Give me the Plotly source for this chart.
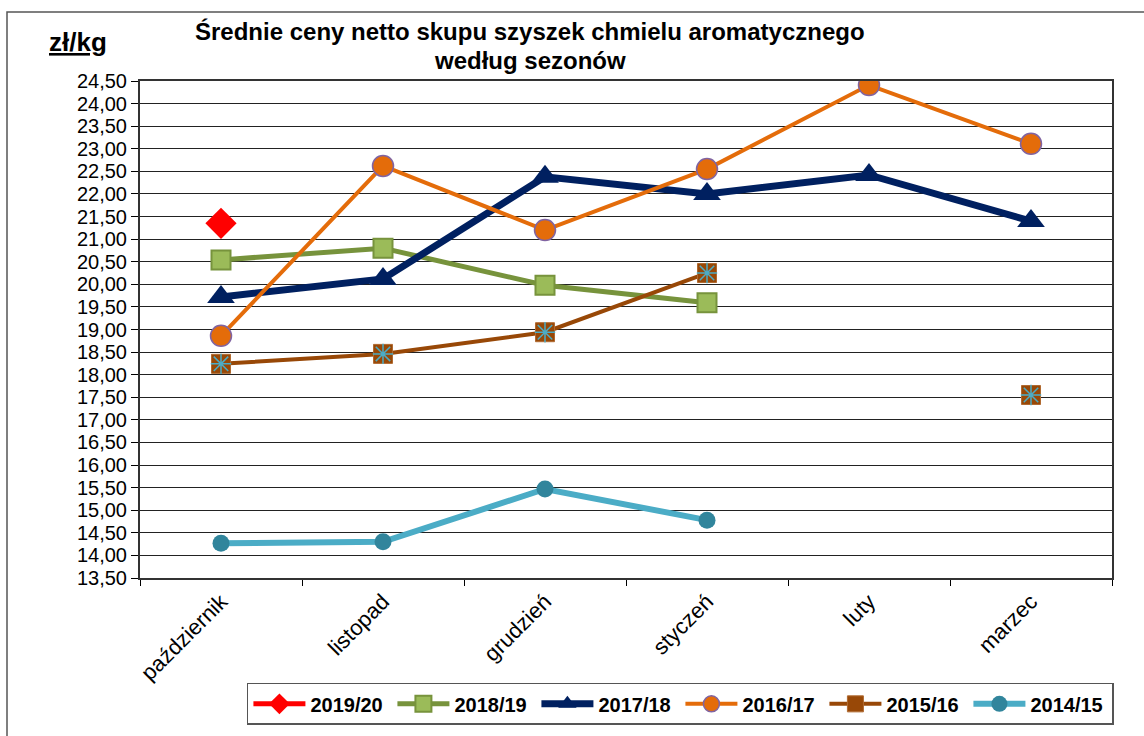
import plotly.graph_objects as go

months = ["październik", "listopad", "grudzień", "styczeń", "luty", "marzec"]
s2019_20 = [21.35, None, None, None, None, None]
s2018_19 = [20.54, 20.80, 19.98, 19.59, None, None]
s2017_18 = [19.72, 20.12, 22.38, 22.00, 22.42, 21.40]
s2016_17 = [18.86, 22.62, 21.20, 22.55, 24.41, 23.11]
s2015_16 = [18.24, 18.46, 18.94, 20.25, None, 17.55]
s2014_15 = [14.27, 14.30, 15.47, 14.78, None, None]

y_ticks = [13.5 + 0.5 * i for i in range(23)]
y_tick_text = [f"{v:.2f}".replace(".", ",") for v in y_ticks]

FONT = "Arial, Liberation Sans, sans-serif"

fig = go.Figure()

fig.add_trace(go.Scatter(x=months, y=s2019_20, name="2019/20", mode="lines+markers",
                         line=dict(color="#FF0000", width=5),
                         marker=dict(symbol="diamond", size=24, color="#FF0000")))
fig.add_trace(go.Scatter(x=months, y=s2018_19, name="2018/19", mode="lines+markers",
                         line=dict(color="#77933C", width=5),
                         marker=dict(symbol="square", size=19, color="#9BBB59",
                                     line=dict(color="#77933C", width=2))))
fig.add_trace(go.Scatter(x=months, y=s2017_18, name="2017/18", mode="lines+markers",
                         line=dict(color="#002060", width=7),
                         marker=dict(symbol="triangle-up", size=24, color="#002060")))
fig.add_trace(go.Scatter(x=months, y=s2016_17, name="2016/17", mode="lines+markers",
                         line=dict(color="#E46C0A", width=4),
                         marker=dict(symbol="circle", size=21, color="#E46C0A",
                                     line=dict(color="#8064A2", width=1.5))))
fig.add_trace(go.Scatter(x=months, y=s2015_16, name="2015/16", mode="lines+markers",
                         line=dict(color="#984807", width=4),
                         marker=dict(symbol="square", size=19, color="#984807",
                                     line=dict(color="#B06A30", width=1))))
fig.add_trace(go.Scatter(x=months, y=s2015_16, name="2015/16 *", mode="markers",
                         showlegend=False, hoverinfo="skip",
                         marker=dict(symbol="asterisk-open", size=17, color="#4BACC6",
                                     line=dict(color="#4BACC6", width=1.5))))
fig.add_trace(go.Scatter(x=months, y=s2014_15, name="2014/15", mode="lines+markers",
                         line=dict(color="#4BACC6", width=6),
                         marker=dict(symbol="circle", size=17, color="#31859C")))

fig.update_layout(
    width=1144, height=736,
    margin=dict(l=140, r=32, t=81, b=158, autoexpand=False),
    paper_bgcolor="white", plot_bgcolor="white",
    font=dict(family=FONT, color="black"),
    showlegend=True,
    legend=dict(orientation="h", x=0.110, y=-0.211, xanchor="left", yanchor="top",
                bordercolor="#555555", borderwidth=1.5, bgcolor="white",
                font=dict(size=20, family=FONT, color="black", weight="bold"),
                entrywidth=77, entrywidthmode="pixels", itemwidth=52,
                tracegroupgap=0),
    xaxis=dict(type="category", categoryorder="array", categoryarray=months,
               range=[-0.5, 5.5], tickson="boundaries", ticks="outside", ticklen=6,
               tickcolor="black", tickangle=-45, tickfont=dict(size=22, family=FONT),
               showline=True, linecolor="#333333", linewidth=2, mirror=True,
               showgrid=False, zeroline=False, automargin=False),
    yaxis=dict(range=[13.5, 24.5], tickvals=y_ticks, ticktext=y_tick_text,
               ticks="outside", ticklen=7, tickcolor="black",
               tickfont=dict(size=20, family=FONT),
               showline=True, linecolor="#333333", linewidth=2, mirror=True,
               showgrid=True, gridcolor="#222222", gridwidth=1, zeroline=False,
               automargin=False),
)

fig.add_annotation(text="<b>Średnie ceny netto skupu szyszek chmielu aromatycznego</b>",
                   xref="paper", yref="paper", x=0.401, y=(578 - 32) / 497,
                   xanchor="center", yanchor="middle", showarrow=False,
                   font=dict(size=24, family=FONT, color="black"))
fig.add_annotation(text="<b>według sezonów</b>",
                   xref="paper", yref="paper", x=0.401, y=(578 - 60) / 497,
                   xanchor="center", yanchor="middle", showarrow=False,
                   font=dict(size=24, family=FONT, color="black"))
fig.add_annotation(text="<b><u>zł/kg</u></b>",
                   xref="paper", yref="paper", x=(78 - 140) / 972, y=(578 - 42) / 497,
                   xanchor="center", yanchor="middle", showarrow=False,
                   font=dict(size=26, family=FONT, color="black"))

fig.add_shape(type="rect", xref="paper", yref="paper",
              x0=(7 - 140) / 972, x1=1.2, y0=-0.5, y1=(578 - 12) / 497,
              line=dict(color="#555555", width=1.5), fillcolor="rgba(0,0,0,0)",
              layer="below")

fig.write_html("out.html")
